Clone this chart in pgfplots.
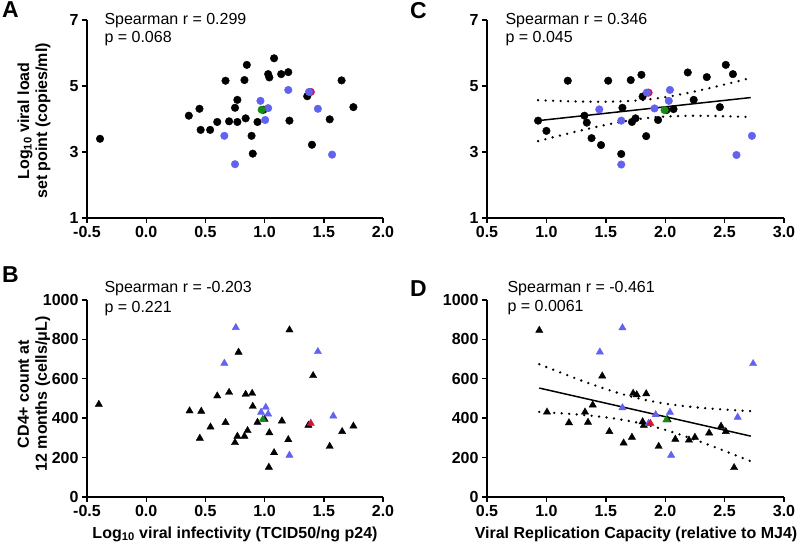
\documentclass[border=0pt]{standalone}
\usepackage{pgfplots}
\pgfplotsset{compat=1.18}
\usepackage{fontspec}
\setmainfont{Liberation Sans}
\definecolor{ptblue}{RGB}{98,98,240}
\definecolor{ptred}{RGB}{210,20,60}
\definecolor{ptgreen}{RGB}{20,140,20}

\pgfplotsset{
  gp/.style={
    scale only axis, clip=false,
    axis x line*=bottom, axis y line*=left,
    axis line style={line width=1.4pt,-},
    every tick/.style={line width=1.4pt,black},
    tick align=outside, major tick length=5pt,
    tick label style={font=\fontsize{16}{16}\selectfont\bfseries},
    /pgf/number format/assume math mode=true,
    /pgf/number format/1000 sep={},
  },
  xone/.style={xtick={-0.5,0,0.5,1,1.5,2},
    xticklabel style={/pgf/number format/.cd,fixed,fixed zerofill,precision=1}},
  xtwo/.style={xtick={0.5,1,1.5,2,2.5,3},
    xticklabel style={/pgf/number format/.cd,fixed,fixed zerofill,precision=1}},
  dot/.style={only marks, mark=*, mark size=3.8pt},
  tri/.style={only marks, mark=triangle*, mark size=4.2pt},
  band/.style={black, line width=2.6pt, line cap=round, dash pattern=on 0pt off 7.5pt},
}

\begin{document}
\begin{tikzpicture}
\useasboundingbox (0,0) rectangle (800pt,554pt);

% ---------------- A ----------------
\begin{axis}[gp, xone, at={(87pt,336pt)}, anchor=south west,
  width=296pt, height=198pt,
  xmin=-0.5, xmax=2, ymin=1, ymax=7, ytick={1,3,5,7}]
\addplot[dot, black] coordinates {
(-0.39,3.40) (0.36,4.10) (0.45,4.31) (0.46,3.67) (0.54,3.67) (0.60,3.91)
(0.67,5.16) (0.70,3.93) (0.75,4.34) (0.77,4.58) (0.77,3.91) (0.83,5.18)
(0.84,4.02) (0.85,5.64) (0.89,3.49) (0.90,2.95) (0.94,3.91) (0.99,4.28)
(1.03,5.36) (1.04,5.26) (1.08,5.84) (1.14,5.36) (1.20,5.42) (1.21,3.95)
(1.36,4.69) (1.40,3.22) (1.55,3.99) (1.65,5.17) (1.75,4.36)};
\addplot[dot, ptred] coordinates {(1.39,4.82)};
\addplot[dot, ptblue] coordinates {
(0.66,3.49) (0.75,2.63) (0.965,4.55) (1.005,3.97) (1.03,4.33) (1.20,4.88)
(1.45,4.31) (1.57,2.92) (1.375,4.82)};
\addplot[dot, ptgreen] coordinates {(0.975,4.28)};
\end{axis}

% ---------------- C ----------------
\begin{axis}[gp, xtwo, at={(487pt,336pt)}, anchor=south west,
  width=297pt, height=198pt,
  xmin=0.5, xmax=3, ymin=1, ymax=7, ytick={1,3,5,7}]
\addplot[dot, black] coordinates {
(0.93,3.95) (1.00,3.64) (1.18,5.16) (1.32,4.10) (1.34,3.89) (1.38,3.42)
(1.46,3.21) (1.52,5.16) (1.63,2.94) (1.64,4.34) (1.71,5.18) (1.72,3.91)
(1.75,4.02) (1.80,5.34) (1.81,4.68) (1.84,3.48) (1.94,3.97) (2.01,4.27)
(2.07,4.30) (2.19,5.41) (2.24,4.58) (2.35,5.27) (2.46,4.36) (2.51,5.64)
(2.57,5.36)};
\addplot[dot, ptred] coordinates {(1.86,4.80)};
\addplot[dot, ptblue] coordinates {
(1.445,4.29) (1.63,3.95) (1.63,2.62) (1.91,4.32) (2.03,4.55) (2.04,4.88)
(2.60,2.91) (2.73,3.49) (1.845,4.80)};
\addplot[dot, ptgreen] coordinates {(1.995,4.27)};
\addplot[black, line width=1.5pt] coordinates {(0.93,3.95) (2.72,4.65)};
\addplot[band, smooth] coordinates {
(0.93,4.57) (1.1,4.547) (1.3,4.528) (1.5,4.523) (1.7,4.545) (1.85,4.59)
(2.0,4.662) (2.2,4.797) (2.4,4.958) (2.6,5.134) (2.72,5.244)};
\addplot[band, smooth] coordinates {
(0.93,3.33) (1.1,3.485) (1.3,3.662) (1.5,3.823) (1.7,3.957) (1.85,4.03)
(2.0,4.074) (2.2,4.097) (2.4,4.092) (2.6,4.072) (2.72,4.056)};
\end{axis}

% ---------------- B ----------------
\begin{axis}[gp, xone, at={(87pt,57pt)}, anchor=south west,
  width=296pt, height=197pt,
  xmin=-0.5, xmax=2, ymin=0, ymax=1000, ytick={0,200,...,1000}]
\addplot[tri, black] coordinates {
(-0.40,470) (0.366,437) (0.465,435) (0.453,298) (0.543,355) (0.60,513)
(0.70,531) (0.67,378) (0.75,276) (0.77,308) (0.83,308) (0.856,337)
(0.84,521) (0.78,735) (0.895,526) (0.90,460) (0.94,379) (1.00,394)
(1.04,326) (1.146,386) (1.20,291) (1.08,225) (1.036,151) (1.37,364)
(1.41,616) (1.655,332) (1.75,360) (1.55,257) (1.21,848)};
\addplot[tri, ptblue] coordinates {
(0.757,860) (0.66,679) (1.45,738) (1.01,455) (0.97,430) (1.03,421)
(1.21,212) (1.58,411)};
\addplot[tri, ptred] coordinates {(1.39,374)};
\addplot[tri, ptgreen] coordinates {(0.985,394)};
\end{axis}

% ---------------- D ----------------
\begin{axis}[gp, xtwo, at={(487pt,57pt)}, anchor=south west,
  width=297pt, height=197pt,
  xmin=0.5, xmax=3, ymin=0, ymax=1000, ytick={0,200,...,1000}]
\addplot[tri, black] coordinates {
(0.94,846) (1.005,431) (1.19,377) (1.325,431) (1.35,379) (1.39,467)
(1.47,614) (1.53,332) (1.65,274) (1.72,303) (1.73,526) (1.76,519)
(1.81,382) (1.82,364) (1.84,524) (1.945,257) (2.02,392) (2.085,293)
(2.20,289) (2.25,303) (2.37,325) (2.47,359) (2.51,332) (2.58,149)};
\addplot[tri, ptblue] coordinates {
(1.45,736) (1.64,859) (1.64,453) (1.92,418) (2.04,430) (2.05,212)
(2.61,405) (2.74,677) (1.86,374)};
\addplot[tri, ptred] coordinates {(1.875,374)};
\addplot[tri, ptgreen] coordinates {(2.01,392)};
\addplot[black, line width=1.5pt] coordinates {(0.94,553) (2.72,309)};
\addplot[band, smooth] coordinates {
(0.94,674) (1.2,612.7) (1.4,568.4) (1.6,528.9) (1.8,496.9) (2.0,474)
(2.2,458.6) (2.4,447.9) (2.6,439.9) (2.72,435.9)};
\addplot[band, smooth] coordinates {
(0.94,432) (1.2,421.9) (1.4,411.2) (1.6,395.9) (1.8,372.9) (2.0,341)
(2.2,301.4) (2.4,257.1) (2.6,210.3) (2.72,181.3)};
\end{axis}

% ---------------- texts ----------------
\begin{scope}[every node/.style={anchor=base west, font=\fontsize{16}{16}\selectfont}]
\node at (101pt,529pt) {Spearman r = 0.299};
\node at (101pt,511pt) {p = 0.068};
\node at (502pt,529pt) {Spearman r = 0.346};
\node at (502pt,511pt) {p = 0.045};
\node at (101pt,261pt) {Spearman r = -0.203};
\node at (101pt,241pt) {p = 0.221};
\node at (504pt,261pt) {Spearman r = -0.461};
\node at (504pt,242pt) {p = 0.0061};
\end{scope}

\begin{scope}[every node/.style={anchor=base west, font=\fontsize{23}{23}\selectfont\bfseries}]
\node[inner sep=0pt] at (2pt,536pt) {A};
\node[inner sep=0pt] at (2pt,271pt) {B};
\node[inner sep=0pt] at (410pt,535pt) {C};
\node[inner sep=0pt] at (410pt,257pt) {D};
\end{scope}

\begin{scope}[every node/.style={font=\fontsize{16}{18}\selectfont\bfseries, align=center}]
\node[rotate=90] at (34pt,433pt) {Log\textsubscript{10} viral load\\set point (copies/ml)};
\node[rotate=90] at (34pt,160pt) {CD4+ count at\\12 months (cells/μL)};
\node at (235pt,20pt) {Log\textsubscript{10} viral infectivity (TCID50/ng p24)};
\node at (636pt,20pt) {Viral Replication Capacity (relative to MJ4)};
\end{scope}
\end{tikzpicture}
\end{document}
